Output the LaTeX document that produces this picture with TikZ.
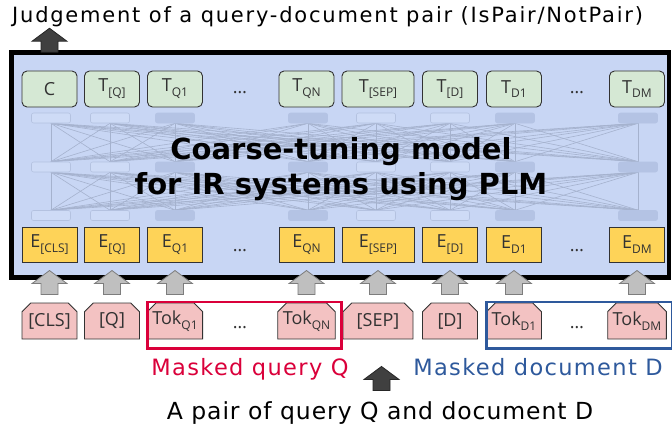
\documentclass[tikz,border=0pt]{standalone}
\usepackage{fontspec}
\setmainfont{DejaVu Sans}
\newfontfamily\nodefont{Open Sans}
\usetikzlibrary{shapes.misc,calc}
\definecolor{boxblue}{RGB}{200,214,244}
\definecolor{tgreen}{RGB}{213,232,212}
\definecolor{egold}{RGB}{254,211,88}
\definecolor{tokpink}{RGB}{243,194,194}
\definecolor{nlight}{RGB}{206,219,246}
\definecolor{nlightd}{RGB}{180,194,224}
\definecolor{ndark}{RGB}{180,195,228}
\definecolor{netline}{RGB}{165,178,206}
\definecolor{agray}{RGB}{191,191,191}
\definecolor{agrayd}{RGB}{125,125,125}
\definecolor{adark}{RGB}{64,64,64}
\definecolor{qred}{RGB}{218,0,58}
\definecolor{qblue}{RGB}{46,89,156}
\definecolor{ntext}{RGB}{50,50,50}
\newcommand\lsub[1]{\raisebox{-0.5ex}{\fontsize{12}{12}\selectfont #1}}
\pgfdeclarelayer{bglayer}
\pgfdeclarelayer{netlayer}
\pgfsetlayers{bglayer,netlayer,main}
\tikzset{
  basebox/.style={draw=ntext, line width=0.9pt, inner sep=0pt, minimum width=55pt, text=ntext, font=\nodefont\fontsize{18}{18}\selectfont},
  tn/.style={basebox, fill=tgreen, rounded corners=5pt, minimum height=36pt},
  en/.style={basebox, fill=egold, minimum height=35pt},
  tok/.style={basebox, fill=tokpink, chamfered rectangle, chamfered rectangle corners={north west,north east}, chamfered rectangle xsep=5pt, minimum height=36pt},
  nnl/.style={draw=nlightd, fill=nlight, line width=0.6pt, rounded corners=2pt, minimum width=39pt, minimum height=10pt, inner sep=0pt},
  nnd/.style={draw=ndark, fill=ndark, line width=0.6pt, rounded corners=2pt, minimum width=39pt, minimum height=10pt, inner sep=0pt},
  netedge/.style={draw=netline, line width=0.6pt},
  dotsn/.style={text=ntext, font=\nodefont\fontsize{18}{18}\selectfont},
  grayarrow/.style={fill=agray, draw=agrayd, line width=0.8pt},
  darkarrow/.style={fill=adark, draw=black!85, line width=0.8pt},
  pics/uparr/.style={code={\path[pic actions] (-8.5,0) -- (-8.5,-11) -- (-17.5,-11) -- (0,-24) -- (17.5,-11) -- (8.5,-11) -- (8.5,0) -- cycle;}}
}
\begin{document}
\begin{tikzpicture}[x=1pt,y=-1pt]
\useasboundingbox (0,0) rectangle (672,428);

% model box
\begin{pgfonlayer}{bglayer}
\node[draw=black, line width=4.5pt, fill=boxblue, minimum width=657.5pt, minimum height=225pt, inner sep=0pt] (model) at (340.25,165) {};
\end{pgfonlayer}

% title
\node[anchor=base west, font=\addfontfeature{LetterSpace=8.5}\fontsize{21}{22}\selectfont, inner sep=0pt] (judge) at (12,23) {Judgement of a query-document pair (IsPair/NotPair)};

% output nodes
\node[tn] (tC) at (49.5,89) {C};
\node[tn] (tQ) at (112,89) {T\lsub{[Q]}};
\node[tn] (tQ1) at (175,89) {T\lsub{Q1}};
\node[dotsn] (tdots1) at (240,93) {\dots};
\node[tn] (tQN) at (306.5,89) {T\lsub{QN}};
\node[tn, minimum width=72pt] (tSEP) at (378,89) {T\lsub{[SEP]}};
\node[tn] (tD) at (450,89) {T\lsub{[D]}};
\node[tn] (tD1) at (514,89) {T\lsub{D1}};
\node[dotsn] (tdots2) at (577,93) {\dots};
\node[tn] (tDM) at (637,89) {T\lsub{DM}};

% embedding nodes
\node[en] (eCLS) at (49.5,244.5) {E\lsub{[CLS]}};
\node[en] (eQ) at (112,244.5) {E\lsub{[Q]}};
\node[en] (eQ1) at (175,244.5) {E\lsub{Q1}};
\node[dotsn] (edots1) at (240,251) {\dots};
\node[en] (eQN) at (306.5,244.5) {E\lsub{QN}};
\node[en, minimum width=72pt] (eSEP) at (378,244.5) {E\lsub{[SEP]}};
\node[en] (eD) at (450,244.5) {E\lsub{[D]}};
\node[en] (eD1) at (514,244.5) {E\lsub{D1}};
\node[dotsn] (edots2) at (577,251) {\dots};
\node[en] (eDM) at (637,244.5) {E\lsub{DM}};

% token nodes
\node[tok] (kCLS) at (49.5,321) {[CLS]};
\node[tok] (kQ) at (112,321) {[Q]};
\node[tok] (kQ1) at (175,321) {Tok\lsub{Q1}};
\node[dotsn] (kdots1) at (240,328) {\dots};
\node[tok] (kQN) at (306.5,321) {Tok\lsub{QN}};
\node[tok, minimum width=70pt] (kSEP) at (378,321) {[SEP]};
\node[tok] (kD) at (450,321) {[D]};
\node[tok] (kD1) at (514,321) {Tok\lsub{D1}};
\node[dotsn] (kdots2) at (577,328) {\dots};
\node[tok] (kDM) at (637,321) {Tok\lsub{DM}};

% network
\foreach \x/\s [count=\i] in {51/nnl,110/nnl,175/nnd,308/nnd,376/nnl,450/nnl,515/nnd,638/nnd} {
  \node[\s] (na\i) at (\x,118) {};
  \node[\s] (nb\i) at (\x,167) {};
  \node[\s] (nc\i) at (\x,215.5) {};
}
\begin{pgfonlayer}{netlayer}
\foreach \i in {1,...,8} {
  \foreach \j in {1,...,8} {
    \draw[netedge] (na\i.south) -- (nb\j.north);
    \draw[netedge] (nb\i.south) -- (nc\j.north);
  }
}
\end{pgfonlayer}

\node[font=\bfseries\fontsize{29}{35}\selectfont, align=center, text=black] (mtitle) at (341,169.5) {Coarse-tuning model\\for IR systems using PLM};

% gray arrows
\foreach \k in {kCLS,kQ,kQ1,kQN,kSEP,kD,kD1,kDM} {
  \pic[grayarrow] at ($(\k.north)+(0,-8)$) {uparr};
}

% top arrow
\pic[darkarrow] at ($(tC |- model.north)+(0,2)$) {uparr};

% masked boxes
\draw[qred, line width=2.5pt] ($(kQ1.north west)+(-4,-5)$) rectangle ($(kQN.south east)+(6,9)$);
\draw[qblue, line width=2.5pt] ($(kD1.north west)+(-4,-5)$) rectangle ($(kDM.south east)+(5,9)$);

\node[anchor=base, text=qred, font=\addfontfeature{LetterSpace=6}\fontsize{22.5}{23}\selectfont, inner sep=0pt] (mq) at (250,375) {Masked query Q};
\node[anchor=base, text=qblue, font=\addfontfeature{LetterSpace=6}\fontsize{22.5}{23}\selectfont, inner sep=0pt] (md) at (538,375) {Masked document D};

% bottom text and arrow
\node[anchor=base, font=\addfontfeature{LetterSpace=4}\fontsize{23.5}{24}\selectfont, inner sep=0pt] (pair) at (380,419) {A pair of query Q and document D};
\coordinate (pairarrow) at ($(kSEP.south)+(3.5,51)$);
\pic[darkarrow] at (pairarrow) {uparr};
\end{tikzpicture}
\end{document}
